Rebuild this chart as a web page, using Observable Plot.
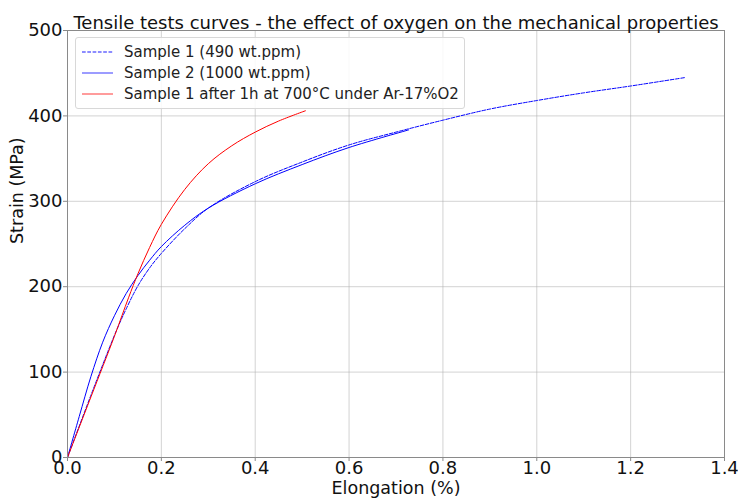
<!DOCTYPE html>
<html>
<head>
<meta charset="utf-8">
<script src="https://cdn.jsdelivr.net/npm/d3@7"></script>
<script src="https://cdn.jsdelivr.net/npm/@observablehq/plot@0.6"></script>
<style>
  html, body { margin: 0; padding: 0; background: #fff; }
  #wrap { position: relative; width: 738px; height: 499px; font-family: "DejaVu Sans", sans-serif; }
  #legend { position: absolute; left: 75px; top: 37px; width: 388px; height: 70px;
    border: 1px solid #d8d8d8; border-radius: 3px; background: rgba(255,255,255,0.85);
    font-size: 15px; color: #222; }
  .row { position: absolute; left: 6px; height: 20px; display: flex; align-items: center; white-space: nowrap; }
  .row svg { margin-right: 11px; }
</style>
</head>
<body>
<div id="wrap"></div>
<script>
// ---- data ----
const title = "Tensile tests curves - the effect of oxygen on the mechanical properties";
const xLabel = "Elongation (%)";
const yLabel = "Strain (MPa)";
const xTicks = [0, 0.2, 0.4, 0.6, 0.8, 1.0, 1.2, 1.4];
const yTicks = [0, 100, 200, 300, 400, 500];
const seriesNames = ["Sample 1 (490 wt.ppm)", "Sample 2 (1000 wt.ppm)", "Sample 1 after 1h at 700°C under Ar-17%O2"];
const seriesColors = ["#0000ff", "#0000ff", "#ff0000"];

const s1x = [0, 0.05, 0.10, 0.125, 0.15, 0.175, 0.20, 0.25, 0.30, 0.40, 0.50, 0.60, 0.70, 0.80, 0.90, 1.00, 1.10, 1.20, 1.317];
const s1y = [0, 73, 143, 174, 201, 222, 239, 268, 292, 323, 346, 366, 381, 395, 408, 418, 427, 435, 445];

const s2x = [0, 0.025, 0.05, 0.075, 0.10, 0.125, 0.15, 0.175, 0.20, 0.25, 0.30, 0.40, 0.50, 0.60, 0.727];
const s2y = [0, 48, 95, 135, 166, 192, 213, 231, 247, 272, 292, 320.5, 343, 363, 383.6];

const s3x = [0, 0.05, 0.10, 0.13, 0.15, 0.175, 0.20, 0.25, 0.30, 0.35, 0.40, 0.45, 0.507];
const s3y = [0, 71, 142, 187, 215, 246, 273, 314, 344, 365, 381, 394, 406];

// ---- build ----
const toRows = (xs, ys) => xs.map((x, i) => ({x, y: ys[i]}));
const d1 = toRows(s1x, s1y), d2 = toRows(s2x, s2y), d3 = toRows(s3x, s3y);

const plot = Plot.plot({
  width: 738,
  height: 499,
  marginLeft: 67,
  marginRight: 14,
  marginTop: 30,
  marginBottom: 42,
  style: { fontFamily: "DejaVu Sans, sans-serif", color: "#111", background: "#fff" },
  x: { domain: [0, 1.4] },
  y: { domain: [0, 500] },
  marks: [
    Plot.gridX(xTicks, { stroke: "#b0b0b0", strokeOpacity: 0.7, strokeWidth: 0.8 }),
    Plot.gridY(yTicks, { stroke: "#b0b0b0", strokeOpacity: 0.7, strokeWidth: 0.8 }),
    Plot.line(d2, { x: "x", y: "y", stroke: seriesColors[1], strokeWidth: 1, curve: "catmull-rom" }),
    Plot.line(d1, { x: "x", y: "y", stroke: seriesColors[0], strokeWidth: 1, strokeDasharray: "3.7,1.6", curve: "catmull-rom" }),
    Plot.line(d3, { x: "x", y: "y", stroke: seriesColors[2], strokeWidth: 1, curve: "catmull-rom" }),
    Plot.frame({ stroke: "#8a8a8a", strokeWidth: 1 }),
    Plot.axisX(xTicks, { tickFormat: d => d.toFixed(1), tickSize: 4, tickPadding: 0, fontSize: 18, stroke: "#8a8a8a", label: null }),
    Plot.axisY(yTicks, { tickSize: 4, tickPadding: 1, fontSize: 18, stroke: "#8a8a8a", label: null }),
    Plot.text([xLabel], { frameAnchor: "bottom", dy: 36, lineAnchor: "bottom", fontSize: 17.5, fill: "#111" }),
    Plot.text([yLabel], { frameAnchor: "left", dx: -50, rotate: -90, fontSize: 17.5, fill: "#111" }),
    Plot.text([title], { frameAnchor: "top", dy: -14, fontSize: 18, fill: "#111" })
  ]
});

const wrap = document.getElementById("wrap");
wrap.appendChild(plot);

// legend
const NS = "http://www.w3.org/2000/svg";
const legend = document.createElement("div");
legend.id = "legend";
const dashes = ["3.7,1.6", null, null];
seriesNames.forEach((name, i) => {
  const row = document.createElement("div");
  row.className = "row";
  row.style.top = (4 + i * 21) + "px";
  const sw = document.createElementNS(NS, "svg");
  sw.setAttribute("width", "31");
  sw.setAttribute("height", "10");
  const ln = document.createElementNS(NS, "line");
  ln.setAttribute("x1", "0"); ln.setAttribute("x2", "31");
  ln.setAttribute("y1", "5"); ln.setAttribute("y2", "5");
  ln.setAttribute("stroke", seriesColors[i]);
  ln.setAttribute("stroke-width", "1.3");
  ln.setAttribute("stroke-opacity", "0.6");
  if (dashes[i]) ln.setAttribute("stroke-dasharray", dashes[i]);
  sw.appendChild(ln);
  row.appendChild(sw);
  const t = document.createElement("span");
  t.textContent = name;
  row.appendChild(t);
  legend.appendChild(row);
});
wrap.appendChild(legend);
</script>
</body>
</html>
